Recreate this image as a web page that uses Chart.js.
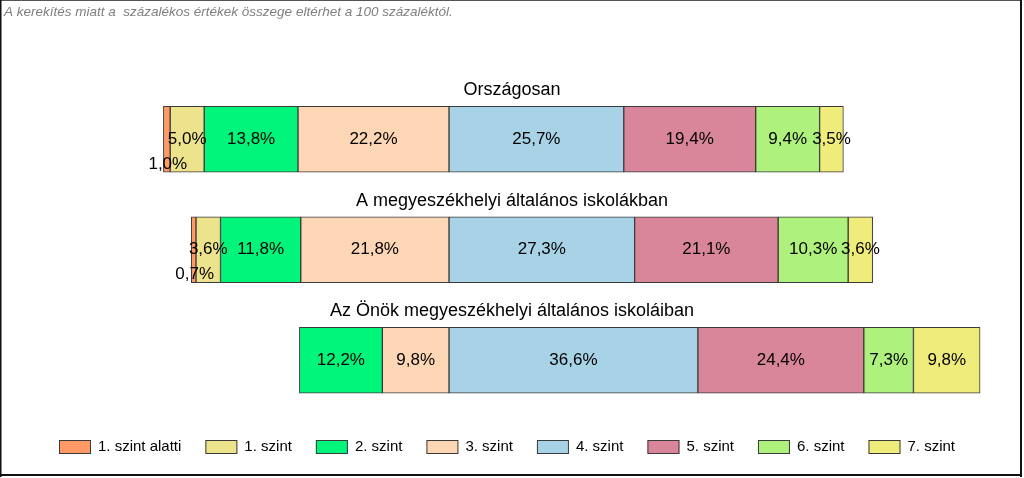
<!DOCTYPE html>
<html>
<head>
<meta charset="utf-8">
<script src="https://cdn.jsdelivr.net/npm/chart.js@4"></script>
<style>
  html, body { margin: 0; padding: 0; background: #fff; }
  #wrap { width: 1024px; height: 478px; }
</style>
</head>
<body>
<div id="wrap"><canvas id="grafikon" width="1024" height="478"></canvas></div>
<script>
// Adatok
const kategoriak = ['Országosan', 'A megyeszékhelyi általános iskolákban', 'Az Önök megyeszékhelyi általános iskoláiban'];
const szintek = ['1. szint alatti', '1. szint', '2. szint', '3. szint', '4. szint', '5. szint', '6. szint', '7. szint'];
const szintAlatti = [1.0, 0.7, 0];
const szint1 = [5.0, 3.6, 0];
const szint2 = [13.8, 11.8, 12.2];
const szint3 = [22.2, 21.8, 9.8];
const szint4 = [25.7, 27.3, 36.6];
const szint5 = [19.4, 21.1, 24.4];
const szint6 = [9.4, 10.3, 7.3];
const szint7 = [3.5, 3.6, 9.8];
const megjegyzes = 'A kerekítés miatt a  százalékos értékek összege eltérhet a 100 százaléktól.';

const szinek = ['#FF9966', '#ECE38C', '#00F57A', '#FDD6B5', '#A8D3E6', '#D9869A', '#AEF27D', '#F0EC7C'];
const ertekek = [szintAlatti, szint1, szint2, szint3, szint4, szint5, szint6, szint7];
const betu = '"Liberation Sans", Arial, sans-serif';

// A 0-tól balra: 3., 2., 1. szint, szint alatti (ebben a sorrendben halmozódnak kifelé)
const sorrend = [3, 2, 1, 0, 4, 5, 6, 7];
const datasets = sorrend.map(i => ({
    label: szintek[i],
    szintIndex: i,
    data: ertekek[i].map(v => i < 4 ? -v : v),
    backgroundColor: szinek[i],
    borderColor: '#3a3a3a',
    borderWidth: 1,
    borderSkipped: false,
    barThickness: 66
}));

function formaz(v) {
    return Math.abs(v).toFixed(1).replace('.', ',') + '%';
}

// Keret, megjegyzés, címek, címkék és jelmagyarázat rajzolása
const rajzolo = {
    id: 'rajzolo',
    afterDatasetsDraw(chart) {
        const ctx = chart.ctx;
        const yScale = chart.scales.y;
        ctx.save();

        // megjegyzés
        ctx.font = 'italic 13.5px ' + betu;
        ctx.fillStyle = '#7f7f7f';
        ctx.textAlign = 'left';
        ctx.textBaseline = 'alphabetic';
        ctx.fillText(megjegyzes, 4, 16);

        // címek a sávok fölött
        ctx.font = '18px ' + betu;
        ctx.fillStyle = '#000';
        ctx.textAlign = 'center';
        ctx.textBaseline = 'middle';
        kategoriak.forEach((k, i) => {
            const y = yScale.getPixelForValue(i);
            ctx.fillText(k, 512, y - 49);
        });

        // értékcímkék
        ctx.font = '17px ' + betu;
        chart.data.datasets.forEach((ds, di) => {
            const meta = chart.getDatasetMeta(di);
            meta.data.forEach((el, j) => {
                const v = ds.data[j];
                if (!v) return;
                const p = el.getCenterPoint();
                const dy = ds.szintIndex === 0 ? 25 : 0;
                ctx.fillText(formaz(v), p.x + (ds.szintIndex === 0 ? 1 : 0), p.y + dy);
            });
        });

        // jelmagyarázat
        ctx.font = '15px ' + betu;
        ctx.textAlign = 'left';
        let x = 59;
        szintek.forEach((s, i) => {
            ctx.fillStyle = szinek[i];
            ctx.fillRect(x, 440, 32, 14);
            ctx.strokeStyle = '#3a3a3a';
            ctx.lineWidth = 1;
            ctx.strokeRect(x + 0.5, 440.5, 31, 13);
            ctx.fillStyle = '#000';
            ctx.fillText(s, x + 39, 447);
            x += 39 + ctx.measureText(s).width + 24;
        });

        // keret
        ctx.strokeStyle = '#555';
        ctx.lineWidth = 1;
        ctx.strokeRect(0.5, 0.5, 1021, 475);
        ctx.fillStyle = '#111';
        ctx.fillRect(1020, 0, 2, 477);
        ctx.fillRect(0, 474, 1022, 2);
        ctx.fillRect(0, 0, 1.5, 477);

        ctx.restore();
    }
};

new Chart(document.getElementById('grafikon'), {
    type: 'bar',
    data: {
        labels: kategoriak,
        datasets: datasets
    },
    options: {
        indexAxis: 'y',
        responsive: false,
        animation: false,
        layout: {
            padding: { left: 41, right: 31, top: 84, bottom: 62.5 }
        },
        scales: {
            x: { stacked: true, min: -60, max: 80, display: false },
            y: { stacked: true, display: false }
        },
        plugins: {
            legend: { display: false },
            tooltip: { enabled: false }
        }
    },
    plugins: [rajzolo]
});
</script>
</body>
</html>
